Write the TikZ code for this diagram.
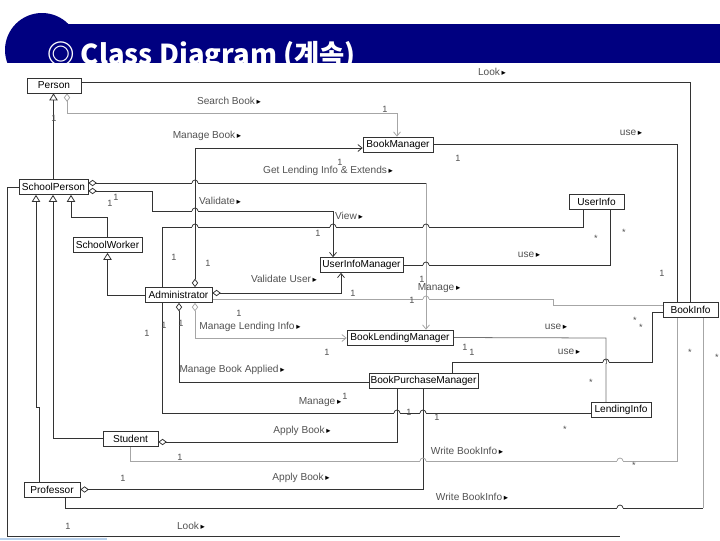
\documentclass[tikz,border=0pt]{standalone}
\usepackage{fontspec}
\setmainfont{Liberation Sans}
\newfontfamily\cjk{Noto Sans CJK KR}
\newfontfamily\symf{DejaVu Sans}
\usepackage{tikz}
\usetikzlibrary{arrows.meta, positioning, backgrounds}
\definecolor{titlebar}{HTML}{000080}
\definecolor{wire}{gray}{0.2}
\definecolor{midwire}{gray}{0.45}
\definecolor{faintwire}{gray}{0.65}
\definecolor{labeltext}{gray}{0.32}
\definecolor{footstrip}{HTML}{B9D1EC}
\newcommand{\navtri}{\,{\symf\fontsize{6}{6}\selectfont\textcolor{black}{▸}}}
\newcommand{\hop}[4]{%
  \fill[white] (#1-3,#2-1.3) rectangle (#1+3,#2+1.3);
  \draw[#4] (#1,#2-1.6) -- (#1,#2+1.6);
  \draw[#3] (#1-3,#2) arc[start angle=180, end angle=360, radius=3];}
\tikzset{
  classbox/.style={
    draw=wire, fill=white, line width=0.5pt,
    minimum height=0.375cm, inner sep=1pt,
    font=\fontsize{7.2}{8}\selectfont
  },
  assoc/.style={draw=wire, line width=0.55pt},
  midassoc/.style={draw=midwire, line width=0.55pt},
  faintassoc/.style={draw=faintwire, line width=0.55pt},
  inherit/.style={-{Triangle[open, length=5pt, width=6pt]}},
  navarrow/.style={-{Straight Barb[length=3pt, width=5pt]}},
  aggarrow/.style={{Diamond[open, length=6pt, width=4.5pt]}-},
  aggnav/.style={{Diamond[open, length=6pt, width=4.5pt]}-{Straight Barb[length=3pt, width=5pt]}},
  linklabel/.style={font=\fontsize{7.2}{8}\selectfont, text=labeltext, inner sep=0.5pt},
  multlabel/.style={font=\fontsize{6.5}{7}\selectfont, text=labeltext, inner sep=0pt}
}

\begin{document}
\begin{tikzpicture}[x=0.025cm, y=-0.025cm]
    \useasboundingbox (0,0) rectangle (720,540);

    \node[classbox, minimum width=1.35cm] (person) at (54,85.5) {Person};
    \node[classbox, minimum width=1.725cm] (schoolperson) at (53.5,187) {SchoolPerson};
    \node[classbox, minimum width=1.725cm] (schoolworker) at (107.5,245) {SchoolWorker};
    \node[classbox, minimum width=1.675cm] (admin) at (178.5,295) {Administrator};
    \node[classbox, minimum width=1.75cm] (bookmgr) at (398,144.5) {BookManager};
    \node[classbox, minimum width=1.375cm] (userinfo) at (596.5,201.5) {UserInfo};
    \node[classbox, minimum width=2.075cm] (uimgr) at (361.5,265) {UserInfoManager};
    \node[classbox, minimum width=1.375cm] (bookinfo) at (690.5,309.5) {BookInfo};
    \node[classbox, minimum width=2.65cm] (lendmgr) at (400,337.5) {BookLendingManager};
    \node[classbox, minimum width=2.725cm] (purchmgr) at (423.5,381) {BookPurchaseManager};
    \node[classbox, minimum width=1.5cm] (lendinfo) at (621,410) {LendingInfo};
    \node[classbox, minimum width=1.375cm] (student) at (130.5,438.5) {Student};
    \node[classbox, minimum width=1.4cm] (professor) at (52,489.5) {Professor};

    \node[linklabel] (lookTop) at (492,72) {Look\navtri};
    \node[linklabel] (searchBook) at (229,101) {Search Book\navtri};
    \node[linklabel] (manageBook) at (207,136) {Manage Book\navtri};
    \node[linklabel] (getLending) at (328,171) {Get Lending Info \& Extends\navtri};
    \node[linklabel] (validate) at (220,201) {Validate\navtri};
    \node[linklabel] (view) at (349,216) {View\navtri};
    \node[linklabel] (useBook) at (631,133) {use\navtri};
    \node[linklabel] (useUser) at (529,255) {use\navtri};
    \node[linklabel] (validateUser) at (284,279) {Validate User\navtri};
    \node[linklabel] (manageInfo) at (439,288) {Manage\navtri};
    \node[linklabel] (manageLending) at (250,327) {Manage Lending Info\navtri};
    \node[linklabel] (useLending) at (556,327) {use\navtri};
    \node[linklabel] (usePurchase) at (569,352) {use\navtri};
    \node[linklabel] (manageApplied) at (232,370) {Manage Book Applied\navtri};
    \node[linklabel] (manageLendInfo) at (320,402) {Manage\navtri};
    \node[linklabel] (applyStudent) at (302,431) {Apply Book\navtri};
    \node[linklabel] (writeStudent) at (467,451) {Write BookInfo\navtri};
    \node[linklabel] (applyProf) at (301,478) {Apply Book\navtri};
    \node[linklabel] (writeProf) at (472,497) {Write BookInfo\navtri};
    \node[linklabel] (lookBottom) at (191,526) {Look\navtri};

    \foreach \x/\y/\txt [count=\i] in {
        54/118/1, 385/109/1, 340/162/1, 458/158/1, 116/197/1, 110/203/1,
        318/233/1, 174/257/1, 208/263/1, 596/238/*, 624/232/*, 353/293/1,
        422/279/1, 412/300/1, 662/273/1, 147/333/1, 164/325/1, 181/323/1,
        239/313/1, 327/352/1, 465/347/1, 472/352/1, 635/320/*, 641/327/*,
        591/382/*, 690/352/*, 717/357/*, 345/396/1, 409/412/1, 437/417/1,
        565/429/*, 180/457/1, 634/465/*, 123/478/1, 68/526/1}
        \node[multlabel] (mult\i) at (\x,\y) {\txt};

    \coordinate (lendBend) at (426,183);
    \coordinate (writeBend) at (703,508);
    \coordinate (lookEnd) at (620,536);

    \begin{scope}[on background layer]
        \fill[titlebar] (40,24) rectangle (720,63);
        \fill[titlebar] (42,50) circle[radius=37];
        \node[anchor=base west, text=white, inner sep=0pt,
              font=\cjk\bfseries\fontsize{19.5}{20}\selectfont] (title) at (47,64) {◎ Class Diagram (계속)};
        \fill[white] (0,63) rectangle (720,540);
        \fill[footstrip] (0,537.5) rectangle (107,540);

        \draw[assoc] (person.east |- 0,82) -- (690,82) -- (690,0 |- bookinfo.north);
        \draw[faintassoc, aggnav] (67,0 |- person.south) -- (67,113) -- (397,113) -- (397,0 |- bookmgr.north);
        \draw[assoc, inherit] (schoolperson.north) -- (schoolperson.north |- person.south);
        \draw[assoc, aggnav] (195,0 |- admin.north) -- (195,148) -- (bookmgr.west |- 0,148);
        \draw[assoc, aggarrow] (schoolperson.east |- 0,183) -- (lendBend);
        \draw[faintassoc, navarrow] (lendBend) -- (lendBend |- lendmgr.north);
        \draw[assoc, aggnav] (schoolperson.east |- 0,191) -- (152,191) -- (152,211) -- (333,211) -- (333,0 |- uimgr.north);
        \draw[assoc] (583,0 |- userinfo.south) -- (583,227) -- (162,227) -- (162,0 |- admin.north);
        \draw[assoc, aggnav] (admin.east |- 0,293) -- (341,293) -- (341,0 |- uimgr.south);
        \draw[faintassoc] (admin.east |- 0,299) -- (553,299) -- (553,305) -- (bookinfo.west |- 0,305);
        \draw[assoc] (uimgr.east) -- (610,265) -- (610,0 |- userinfo.south);
        \draw[assoc] (bookmgr.east) -- (677,144.5) -- (677,0 |- bookinfo.north);
        \draw[faintassoc, aggnav] (195,0 |- admin.south) -- (195,338) -- (lendmgr.west |- 0,338);
        \draw[assoc, aggarrow] (179,0 |- admin.south) -- (179,382) -- (purchmgr.west |- 0,382);
        \draw[assoc] (162,0 |- admin.south) -- (162,413) -- (lendinfo.west |- 0,413);
        \draw[midassoc] (lendmgr.east) -- (606,338) -- (606,0 |- lendinfo.north);
        \draw[assoc] (452,0 |- purchmgr.north) -- (452,362) -- (652,362) -- (652,312) -- (bookinfo.west |- 0,312);
        \draw[assoc, inherit] (schoolworker.north) -- (schoolworker.north |- 0,217) -- (71,217) -- (71,0 |- schoolperson.south);
        \draw[assoc, inherit] (admin.west) -| (schoolworker.south);
        \draw[assoc, inherit] (student.west) -| (53,0 |- schoolperson.south);
        \draw[assoc, inherit] (39,0 |- professor.north) -- (39,407) -- (36,407) -- (36,0 |- schoolperson.south);
        \draw[assoc, aggarrow] (student.east |- 0,442) -- (397,442) -- (397,0 |- purchmgr.south);
        \draw[faintassoc] (130,0 |- student.south) -- (130,461) -- (677,461) -- (677,0 |- bookinfo.south);
        \draw[assoc, aggarrow] (professor.east) -- (423,489.5) -- (423,0 |- purchmgr.south);
        \draw[assoc] (65,0 |- professor.south) -- (65,508) -- (writeBend);
        \draw[faintassoc] (writeBend) -- (writeBend |- bookinfo.south);
        \draw[assoc] (schoolperson.west) -- (7,187) -- (7,536) -- (lookEnd);

        \hop{195}{183}{assoc}{assoc}
        \hop{195}{211}{assoc}{assoc}
        \hop{195}{227}{assoc}{assoc}
        \hop{333}{227}{assoc}{assoc}
        \hop{426}{227}{assoc}{faintassoc}
        \hop{426}{265}{assoc}{faintassoc}
        \hop{426}{299}{faintassoc}{faintassoc}
        \hop{606}{362}{assoc}{midassoc}
        \hop{397}{413}{assoc}{assoc}
        \hop{423}{413}{assoc}{assoc}
        \hop{423}{461}{faintassoc}{assoc}
        \hop{620}{461}{faintassoc}{draw=none}
        \hop{620}{508}{assoc}{draw=none}
    \end{scope}
\end{tikzpicture}
\end{document}
